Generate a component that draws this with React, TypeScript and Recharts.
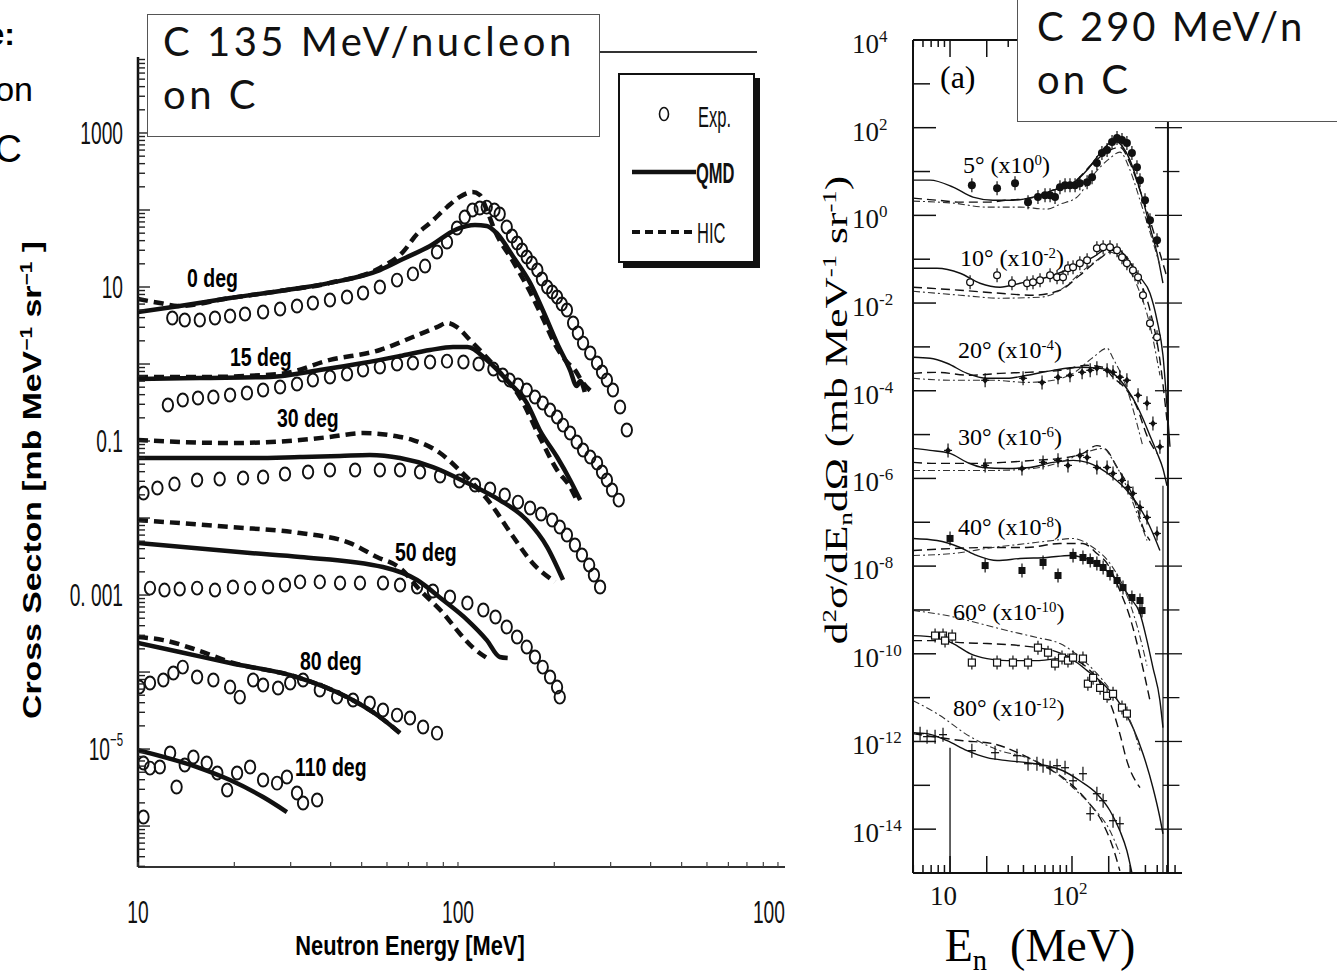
import React from "react";
import { ComposedChart, Line, Scatter, XAxis, YAxis, ReferenceLine, Legend } from "recharts";

type Pt = [number, number];

const SANS = '"Liberation Sans", Arial, sans-serif';
const SERIF = '"Liberation Serif", "Times New Roman", serif';
const GEO = 'Lato, "Open Sans", sans-serif';

// ---------- left panel: C 135 MeV/nucleon on C  (E [MeV], mb/MeV/sr) ----------
const exp0: Pt[] = [[12.8,3.96],[14.0,3.73],[15.6,3.73],[17.4,3.96],[19.4,4.2],[21.6,4.46],[24.6,4.73],[27.8,5.18],[31.4,5.67],[35.2,6.2],[39.8,6.78],[45.0,7.41],[50.5,8.36],[57.0,10],[64.5,12.3],[72.3,14.8],[78.9,18.7],[86.0,28.5],[92.4,38.4],[99.3,58.4],[105,81.1],[111,100],[117,106],[123,109],[130,100],[135,88.7],[142,60.1],[147.5,45.9],[153,37.3],[158.5,30.2],[164,24.5],[170,20.5],[177,16.6],[183,12.7],[190,10],[197,8.61],[204,7.41],[211,6.01],[219,5.03],[229,3.41],[237,2.53],[246,1.87],[259,1.39],[272,1.03],[282,0.787],[292,0.62],[305,0.459],[321,0.276],[337,0.139]];
const qmd0: Pt[] = [[10,4.73],[13.5,5.67],[19.4,7.2],[27.8,8.87],[39.8,11.3],[57.0,16.6],[67.3,23.1],[81.8,34.1],[99.3,56.6],[113,63.9],[123,62.0],[132,50.3],[149,24.5],[168,11.3],[184,5.03],[204,1.87],[224,0.836],[235,0.518],[241,0.601],[249,0.433]];
const hic0: Pt[] = [[10,6.98],[11.7,6.2],[13.3,5.67],[19.4,7.2],[27.8,8.87],[39.8,11.3],[57.0,17.7],[67.3,28.5],[74.5,48.8],[81.8,67.8],[92.4,109],[101,147],[111,171],[117,157],[123,100],[131,51.8],[149,21.1],[168,8.61],[184,3.96],[204,1.61],[219,1.06],[232,0.836],[246,0.567],[262,0.433]];

const exp15: Pt[] = [[12.4,0.294],[13.8,0.341],[15.4,0.362],[17.2,0.373],[19.4,0.396],[21.9,0.42],[24.6,0.459],[27.8,0.503],[31.4,0.55],[35.2,0.62],[39.8,0.678],[45.0,0.742],[50.5,0.836],[57.0,0.914],[64.5,1.0],[72.3,1.03],[81.8,1.06],[92.4,1.09],[104,1.06],[116,1.0],[129,0.861],[138,0.72],[145,0.62],[154,0.534],[164,0.459],[174,0.373],[184,0.312],[194,0.253],[204,0.205],[213,0.161],[224,0.127],[235,0.097],[246,0.0764],[259,0.062],[272,0.0518],[282,0.0396],[292,0.0312],[303,0.0231],[318,0.0171]];
const qmd15: Pt[] = [[10,0.638],[15.6,0.658],[25.9,0.678],[37.0,0.836],[50.5,1.03],[65.9,1.27],[81.8,1.52],[96.5,1.66],[107,1.66],[123,1.13],[145,0.567],[164,0.312],[180,0.139],[204,0.062],[224,0.0312],[241,0.0171]];
const hic15: Pt[] = [[10,0.678],[15.6,0.678],[27.8,0.742],[39.8,1.13],[57.0,1.52],[72.3,2.24],[86.0,3.02],[92.4,3.41],[99.3,3.02],[109,2.05],[117,1.52],[135,0.787],[156,0.373],[180,0.113],[204,0.042],[224,0.0253],[235,0.0171]];

const exp30: Pt[] = [[10.4,0.0211],[11.5,0.0245],[13.0,0.0276],[15.3,0.0312],[18.0,0.0321],[21.3,0.0331],[24.6,0.0341],[28.8,0.0373],[34.0,0.0396],[39.8,0.042],[47.7,0.042],[57.0,0.042],[65.9,0.042],[76.1,0.0396],[87.9,0.0351],[101,0.0303],[113,0.0268],[126,0.0238],[140,0.0199],[154,0.0161],[168,0.0135],[182,0.0113],[197,0.00942],[208,0.00764],[219,0.00601],[232,0.00446],[244,0.00331],[257,0.00245],[266,0.00182],[278,0.00127]];
const qmd30: Pt[] = [[10,0.0601],[22.4,0.0601],[32.1,0.062],[42.8,0.0639],[53.0,0.0658],[65.9,0.0601],[83.5,0.0459],[107,0.0285],[135,0.0171],[164,0.00942],[190,0.0042],[213,0.00157]];
const hic30: Pt[] = [[10,0.103],[19.4,0.0942],[32.1,0.103],[39.8,0.113],[50.5,0.127],[65.9,0.113],[72.3,0.103],[87.9,0.0699],[101,0.042],[126,0.0157],[149,0.00566],[171,0.00261],[201,0.00148]];

const exp50: Pt[] = [[10.9,0.00123],[12.1,0.00116],[13.5,0.0012],[15.3,0.00123],[17.4,0.00116],[19.8,0.00127],[22.4,0.00123],[25.5,0.00127],[28.8,0.00135],[32.1,0.00148],[37.0,0.00148],[42.8,0.00143],[49.4,0.00143],[58.3,0.00143],[65.9,0.00135],[74.5,0.00127],[83.5,0.00113],[94.4,0.000942],[107,0.000787],[120,0.000639],[131,0.000518],[142,0.000384],[153,0.000285],[164,0.000211],[174,0.000157],[184,0.000116],[194,0.0000861],[204,0.0000638],[208,0.0000473]];
const qmd50: Pt[] = [[10,0.00473],[22.4,0.00351],[32.1,0.00312],[58.3,0.00231],[74.5,0.00157],[89.8,0.000861],[107,0.000473],[123,0.00026],[135,0.000157],[143,0.000152]];
const hic50: Pt[] = [[10,0.00942],[19.4,0.00764],[32.1,0.00638],[46.0,0.00473],[55.8,0.00312],[65.9,0.00224],[76.1,0.00116],[89.8,0.000584],[101,0.000321],[111,0.000211],[126,0.000143]];

const exp80: Pt[] = [[10.1,6.38e-5],[10.9,7.2e-5],[12.0,7.87e-5],[12.9,9.7e-5],[13.8,1.16e-4],[15.3,8.61e-5],[17.2,7.87e-5],[19.4,6.38e-5],[20.8,4.73e-5],[22.9,7.87e-5],[24.6,6.78e-5],[27.4,6.2e-5],[29.9,7.2e-5],[32.8,7.87e-5],[37.0,5.84e-5],[41.9,4.73e-5],[47.0,4.33e-5],[53.0,3.96e-5],[58.3,3.21e-5],[64.5,2.76e-5],[70.8,2.53e-5],[77.8,1.93e-5],[86.0,1.61e-5]];
const qmd80: Pt[] = [[10,2.38e-4],[13.5,1.82e-4],[19.4,1.31e-4],[31.4,8.61e-5],[45.0,4.73e-5],[57.0,2.61e-5],[65.9,1.61e-5]];
const hic80: Pt[] = [[10,2.85e-4],[12.0,2.6e-4],[15.3,1.93e-4],[19.4,1.35e-4],[31.4,8.61e-5],[45.0,4.73e-5],[57.0,2.61e-5],[65.9,1.61e-5]];

const exp110: Pt[] = [[10.4,6.58e-6],[10.4,1.31e-6],[10.9,5.66e-6],[11.7,5.84e-6],[12.6,8.87e-6],[13.2,3.21e-6],[14.0,6.2e-6],[14.9,7.87e-6],[16.4,6.58e-6],[17.7,4.88e-6],[19.0,2.94e-6],[20.4,4.88e-6],[22.4,5.84e-6],[24.6,3.96e-6],[27.2,3.61e-6],[29.2,4.33e-6],[31.4,2.69e-6],[32.8,1.99e-6],[36.3,2.18e-6]];
const qmd110: Pt[] = [[10,9.7e-6],[15.3,5.84e-6],[19.4,3.96e-6],[24.6,2.38e-6],[29.2,1.52e-6]];

const LEFT_SETS = [
  { exp: exp0, qmd: qmd0, hic: hic0 },
  { exp: exp15, qmd: qmd15, hic: hic15 },
  { exp: exp30, qmd: qmd30, hic: hic30 },
  { exp: exp50, qmd: qmd50, hic: hic50 },
  { exp: exp80, qmd: qmd80, hic: hic80 },
  { exp: exp110, qmd: qmd110, hic: [] as Pt[] },
];
const LEFT_LABELS = [
  { t: "0 deg", x: 187, y: 278 },
  { t: "15 deg", x: 230, y: 357 },
  { t: "30 deg", x: 277, y: 418 },
  { t: "50 deg", x: 395, y: 552 },
  { t: "80 deg", x: 300, y: 661 },
  { t: "110 deg", x: 295, y: 767 },
];

// ---------- right panel: C 290 MeV/n on C ----------
const s5: Pt[] = [[4.97,6.36],[6.86,6.36],[10.6,4.4],[15.4,2.61],[22.5,2.22],[32.8,2.22],[47.9,2.61],[69.9,3.76],[102,5.43],[133,10.8],[170,26.3],[205,44.5],[234,46.9],[262,35.7],[299,18.2],[341,6.36],[382,2.22],[436,0.538],[498,0.137],[557,0.0283]];
const d5: Pt[] = [[4.97,2.47],[7.82,2.22],[12.1,2.0],[20.1,2.0],[29.3,2.22],[45.3,2.47],[69.9,3.76],[102,5.43],[149,15.6],[205,30.8],[247,35.7],[299,15.6],[361,3.76],[436,0.777],[526,0.137],[601,0.0388]];
const dd5: Pt[] = [[4.97,2.11],[10.6,1.9],[20.1,1.54],[37.5,1.54],[62.4,1.39],[79.7,1.8],[110,2.61],[149,8.28],[205,20.2],[247,27.7],[299,10.8],[361,2.22],[436,0.413],[526,0.073]];
const p5: Pt[] = [[15.1,4.89],[24.3,4.18],[34.1,5.43],[43.6,2.0],[52.6,2.61],[60.1,2.89],[66.1,2.89],[72.6,2.61],[79.7,4.4],[87.7,4.89],[96.3,4.89],[106,4.89],[116,5.43],[133,5.73],[146,7.45],[160,15.6],[176,26.3],[194,30.8],[213,46.9],[234,57.9],[257,52.1],[282,44.5],[310,26.3],[341,12.6],[361,6.36],[397,2.22],[436,0.777],[498,0.272]];

const s10: Pt[] = [[4.97,0.0623],[7.82,0.0623],[12.1,0.0478],[17.6,0.0283],[25.7,0.023],[37.5,0.0283],[62.4,0.0388],[102,0.0656],[149,0.111],[205,0.188],[247,0.16],[299,0.0811],[361,0.0388],[436,0.0167],[498,0.00405],[557,6.43e-4],[601,4.55e-5],[636,5.26e-6]];
const d10: Pt[] = [[4.97,0.023],[12.1,0.0196],[25.7,0.0167],[47.9,0.0151],[79.7,0.0196],[116,0.0431],[170,0.105],[217,0.16],[272,0.123],[341,0.0431],[436,0.00685],[526,0.000494],[601,2.11e-5]];
const dd10: Pt[] = [[4.97,0.0186],[12.1,0.0151],[25.7,0.0129],[54.7,0.0136],[91.0,0.0255],[116,0.0478],[160,0.0949],[205,0.145],[257,0.0949],[341,0.0255],[436,0.00311],[526,0.000225]];
const p10: Pt[] = [[14.6,0.0299],[24.3,0.0431],[32.2,0.0283],[42.8,0.0283],[47.9,0.0299],[54.7,0.0332],[66.1,0.0431],[75.4,0.0388],[84.4,0.0388],[92.7,0.0623],[102,0.0656],[116,0.0811],[133,0.0949],[160,0.178],[180,0.188],[205,0.188],[234,0.16],[257,0.111],[282,0.0811],[316,0.0561],[348,0.0388],[382,0.0151],[436,0.00346],[498,0.00166]];

const s20: Pt[] = [[4.97,5.79e-4],[6.86,5.5e-4],[9.45,4.23e-4],[13.8,2.49e-4],[20.1,1.92e-4],[29.3,1.92e-4],[42.8,2.25e-4],[69.9,2.92e-4],[116,3.42e-4],[170,3.24e-4],[217,2.49e-4],[282,1.11e-4],[341,4.55e-5],[382,2.3e-5],[436,9.4e-6],[498,3.84e-6],[557,1.66e-6],[601,6.8e-7]];
const d20: Pt[] = [[4.97,2.49e-4],[7.82,2.63e-4],[14.6,2.25e-4],[25.7,2.49e-4],[42.8,2.63e-4],[79.7,2.92e-4],[133,3.8e-4],[180,3.42e-4],[217,2.02e-4],[282,1.02e-4],[341,4.18e-5],[412,9.4e-6],[498,3.72e-6]];
const dd20: Pt[] = [[4.97,1.92e-4],[10.6,1.73e-4],[22.5,1.73e-4],[42.8,1.55e-4],[69.9,1.73e-4],[102,2.49e-4],[149,5.79e-4],[194,9.29e-4],[217,5.5e-4],[282,1.11e-4],[341,1.77e-5],[382,5.26e-6]];
const p20: Pt[] = [[19.4,1.73e-4],[39.7,1.92e-4],[56.8,1.55e-4],[76.8,2.02e-4],[96.3,2.25e-4],[121,2.63e-4],[141,2.92e-4],[160,3.24e-4],[194,2.92e-4],[217,2.63e-4],[247,2.02e-4],[282,1.73e-4],[348,7.85e-5],[412,5.15e-5],[461,1.8e-5],[526,5.26e-6]];

const s30: Pt[] = [[4.97,4.84e-6],[6.86,4.36e-6],[10,3.72e-6],[13.8,2.32e-6],[18.6,1.78e-6],[29.3,1.69e-6],[45.3,1.78e-6],[69.9,2.32e-6],[102,2.58e-6],[133,2.32e-6],[170,1.69e-6],[217,1.05e-6],[282,5.32e-7],[341,2.69e-7],[412,1.1e-7],[461,5.55e-8],[526,2.27e-8]];
const d30: Pt[] = [[4.97,2.32e-6],[7.82,2.2e-6],[14.6,2.2e-6],[27.2,2.32e-6],[47.9,2.58e-6],[79.7,2.86e-6],[123,3.72e-6],[160,5.61e-6],[194,4.36e-6],[234,1.78e-6],[282,7.69e-7],[341,2.18e-7],[382,7.6e-8],[436,3.84e-8]];
const dd30: Pt[] = [[4.97,1.52e-6],[10.6,1.52e-6],[22.5,1.52e-6],[47.9,1.69e-6],[79.7,2.32e-6],[123,3.72e-6],[180,4.84e-6],[217,2.58e-6],[282,6.24e-7],[341,1.59e-7],[412,3.84e-8]];
const p30: Pt[] = [[9.63,4.36e-6],[19.4,1.98e-6],[38.9,1.69e-6],[57.9,2.32e-6],[76.8,2.58e-6],[92.7,1.98e-6],[116,3.35e-6],[133,3.02e-6],[160,1.78e-6],[194,1.78e-6],[217,1.3e-6],[257,9.0e-7],[288,6.24e-7],[316,4.55e-7],[361,2.18e-7],[412,1.29e-7],[498,5.55e-8]];

const s40: Pt[] = [[4.97,4.27e-8],[7.82,3.84e-8],[12.1,2.66e-8],[16.6,1.75e-8],[24.3,1.34e-8],[37.5,1.49e-8],[62.4,1.57e-8],[96.3,1.75e-8],[123,1.57e-8],[160,1.15e-8],[205,6.78e-9],[247,4.01e-9],[299,1.92e-9],[361,8.28e-10],[412,2.0e-10],[461,4.84e-11],[526,8.55e-12],[557,2.07e-12]];
const d40: Pt[] = [[4.97,2.27e-8],[10.6,2.52e-8],[20.1,2.66e-8],[42.8,2.66e-8],[79.7,3.28e-8],[123,3.28e-8],[160,1.94e-8],[194,1.15e-8],[247,2.77e-9],[299,6.7e-10],[361,9.1e-11],[436,8.55e-12]];
const dd40: Pt[] = [[4.97,1.75e-8],[10.6,1.94e-8],[22.5,2.66e-8],[42.8,3.28e-8],[69.9,3.84e-8],[102,4.27e-8],[149,2.66e-8],[205,1.15e-8],[272,2.77e-9],[341,4.41e-10],[412,5.38e-11]];
const p40: Pt[] = [[10,4.27e-8],[19.4,1.03e-8],[38.9,7.94e-9],[57.9,1.21e-8],[76.8,6.1e-9],[102,1.75e-8],[123,1.57e-8],[141,1.34e-8],[160,1.15e-8],[180,9.29e-9],[205,6.78e-9],[234,4.69e-9],[262,3.24e-9],[310,1.92e-9],[361,1.64e-9],[375,9.7e-10]];

const s60: Pt[] = [[4.97,2.6e-10],[7.82,2.35e-10],[10.6,1.71e-10],[14.6,1.01e-10],[20.1,7.77e-11],[29.3,7.0e-11],[51.6,7.0e-11],[79.7,7.77e-11],[102,7.0e-11],[133,4.13e-11],[180,2.08e-11],[247,7.29e-12],[316,2.07e-12],[382,5.26e-13],[461,8.81e-14],[526,1.82e-14],[557,7.85e-15]];
const d60: Pt[] = [[4.97,2.0e-10],[7.82,2.0e-10],[12.1,1.8e-10],[20.1,1.71e-10],[37.5,1.54e-10],[51.6,1.38e-10],[69.9,1.18e-10],[96.3,8.18e-11],[133,4.84e-11],[180,1.67e-11],[217,5.0e-12],[247,1.49e-12],[282,3.61e-13],[361,8.81e-14]];
const dd60: Pt[] = [[4.97,9.7e-10],[9.45,7.45e-10],[17.6,4.89e-10],[29.3,3.39e-10],[51.6,2.35e-10],[79.7,1.71e-10],[133,5.97e-11],[180,2.44e-11],[247,7.29e-12],[316,2.07e-12],[361,6.17e-13]];
const p60: Pt[] = [[7.54,2.6e-10],[8.76,2.6e-10],[10.4,2.47e-10],[9.1,2.0e-10],[15.1,6.3e-11],[24.3,6.3e-11],[32.8,6.3e-11],[43.6,6.3e-11],[52.6,1.38e-10],[63.6,1.06e-10],[72.6,5.97e-11],[82.8,8.18e-11],[92.7,7.0e-11],[102,8.18e-11],[123,7.77e-11],[135,2.08e-11],[149,2.83e-11],[170,1.67e-11],[194,1.1e-11],[217,1.22e-11],[257,5.92e-12],[282,4.32e-12]];

const s80: Pt[] = [[4.97,1.59e-12],[6.48,1.51e-12],[9.45,1.04e-12],[13.8,6.17e-13],[20.1,4.27e-13],[29.3,3.65e-13],[42.8,3.28e-13],[62.4,2.8e-13],[84.4,2.15e-13],[116,1.27e-13],[160,6.43e-14],[205,2.63e-14],[247,9.19e-15],[282,3.21e-15],[310,1.0e-15]];
const d80: Pt[] = [[4.97,1.51e-12],[12.8,1.04e-12],[22.5,8.89e-13],[37.5,5.26e-13],[62.4,2.52e-13],[91.0,1.27e-13],[133,4.45e-14],[180,1.33e-14],[217,3.76e-15],[247,1.12e-15]];
const dd80: Pt[] = [[4.97,8.55e-12],[7.82,4.32e-12],[14.6,1.29e-12],[25.7,6.17e-13],[42.8,4.27e-13],[69.9,2.15e-13],[102,8.81e-14],[149,3.08e-14],[205,9.19e-15],[247,2.74e-15]];
const p80: Pt[] = [[5.68,1.51e-12],[6.48,1.29e-12],[7.54,1.29e-12],[8.76,1.43e-12],[15.1,6.17e-13],[23.4,5.55e-13],[35.4,4.74e-13],[43.6,3.11e-13],[51.6,3.11e-13],[57.9,2.8e-13],[66.1,2.52e-13],[75.4,2.8e-13],[87.7,2.52e-13],[102,1.27e-13],[123,1.84e-13],[141,2.25e-14],[160,6.43e-14],[180,4.45e-14],[217,1.56e-14],[247,1.33e-14]];

const RIGHT_SETS = [
  { s: s5, d: d5, dd: dd5, p: p5, mark: "fdot" },
  { s: s10, d: d10, dd: dd10, p: p10, mark: "odot" },
  { s: s20, d: d20, dd: dd20, p: p20, mark: "star" },
  { s: s30, d: d30, dd: dd30, p: p30, mark: "star" },
  { s: s40, d: d40, dd: dd40, p: p40, mark: "fsq" },
  { s: s60, d: d60, dd: dd60, p: p60, mark: "osq" },
  { s: s80, d: d80, dd: dd80, p: p80, mark: "plus" },
];
const RIGHT_LABELS = [
  { a: "5°", e: "0", x: 963, y: 165 },
  { a: "10°", e: "-2", x: 960, y: 258 },
  { a: "20°", e: "-4", x: 958, y: 350 },
  { a: "30°", e: "-6", x: 958, y: 437 },
  { a: "40°", e: "-8", x: 958, y: 527 },
  { a: "60°", e: "-10", x: 953, y: 612 },
  { a: "80°", e: "-12", x: 953, y: 708 },
];

// ---------- axes ----------
const MULTS = [1, 2, 3, 4, 5, 6, 7, 8, 9];
const L_DECADES = [-7, -6, -5, -4, -3, -2, -1, 0, 1, 2, 3];
const L_Y_DOMAIN: [number, number] = [2.94e-7, 9700];
const L_Y_TICKS = L_DECADES.flatMap((d) => MULTS.map((m) => m * 10 ** d)).filter(
  (v) => v >= L_Y_DOMAIN[0] && v <= L_Y_DOMAIN[1]
);
const L_Y_LABELS: Record<number, { base: string; sup?: string }> = {
  3: { base: "1000" },
  1: { base: "10" },
  [-1]: { base: "0.1" },
  [-3]: { base: "0. 001" },
  [-5]: { base: "10", sup: "−5" },
};
const L_X_TICKS = [10, 20, 30, 40, 50, 60, 70, 80, 90, 100, 200, 300, 400, 500, 600, 700, 800, 900, 1000];
const L_X_LABELS: Record<number, string> = { 10: "10", 100: "100", 1000: "100" };

const R_DECADES = [-15, -14, -13, -12, -11, -10, -9, -8, -7, -6, -5, -4, -3, -2, -1, 0, 1, 2, 3, 4];
const R_Y_TICKS = R_DECADES.map((d) => 10 ** d);
const R_X_TICKS = [5, 6, 7, 8, 9, 10, 20, 30, 40, 50, 60, 70, 80, 90, 100, 200, 300, 400, 500, 600, 700];
const R_X_LONG = [10, 20, 100, 200];

const toRows = (pts: Pt[]) => pts.map(([x, y]) => ({ x, y }));
const decadeOf = (v: number) => {
  const lg = Math.log10(v);
  return Math.abs(lg - Math.round(lg)) < 1e-6 ? Math.round(lg) : null;
};

function LeftYTick(p: any) {
  const { x, y, payload } = p;
  const d = decadeOf(payload.value);
  const lab = d !== null ? L_Y_LABELS[d] : undefined;
  return (
    <g>
      <line x1={x} x2={x + (d !== null ? 12 : 7)} y1={y} y2={y} stroke="#222" strokeWidth={1.4} />
      {lab && (
        <text transform={`translate(${x - 15},${y + 11}) scale(0.6,1)`} textAnchor="end" fontFamily={SANS} fontSize={32} fill="#111">
          {lab.base}
          {lab.sup && (
            <tspan dy={-14} fontSize={19}>
              {lab.sup}
            </tspan>
          )}
        </text>
      )}
    </g>
  );
}

function LeftXTick(p: any) {
  const { x, y, payload } = p;
  const lab = L_X_LABELS[payload.value];
  const isLast = payload.value === 1000;
  return (
    <g>
      <line x1={x} x2={x} y1={y} y2={y - 5} stroke="#444" strokeWidth={1.2} />
      {lab && (
        <text
          transform={`translate(${isLast ? x + 7 : x},${y + 56}) scale(0.6,1)`}
          textAnchor={isLast ? "end" : "middle"}
          fontFamily={SANS}
          fontSize={32}
          fill="#111"
        >
          {lab}
        </text>
      )}
    </g>
  );
}

function RightYTick(p: any) {
  const { x, y, payload } = p;
  const d = decadeOf(payload.value) ?? 0;
  const even = d % 2 === 0;
  return (
    <g>
      <line x1={x} x2={x + (even ? 23 : 17)} y1={y} y2={y} stroke="#111" strokeWidth={1.5} />
      {even && (
        <text x={x - 61} y={y + 13} textAnchor="start" fontFamily={SERIF} fontSize={27} fill="#111">
          10
          <tspan dy={-11} fontSize={17}>
            {d < 0 ? `-${-d}` : String(d)}
          </tspan>
        </text>
      )}
    </g>
  );
}

function RightXTick(p: any) {
  const { x, y, payload } = p;
  const v = payload.value;
  const long = R_X_LONG.includes(v);
  return (
    <g>
      <line x1={x} x2={x} y1={y} y2={y - (long ? 17 : 8)} stroke="#111" strokeWidth={1.5} />
      {(v === 10 || v === 100) && (
        <text x={x - 20} y={y + 32} fontFamily={SERIF} fontSize={27} fill="#111">
          10
          {v === 100 && (
            <tspan dy={-11} fontSize={17}>
              2
            </tspan>
          )}
        </text>
      )}
    </g>
  );
}

function TopXTick(p: any) {
  const { x, y, payload } = p;
  const long = R_X_LONG.includes(payload.value);
  return <line x1={x} x2={x} y1={y} y2={y + (long ? 17 : 7)} stroke="#111" strokeWidth={1.5} />;
}

const expShape = (p: any) =>
  p.cx == null ? <g /> : <ellipse cx={p.cx} cy={p.cy} rx={5.2} ry={6.5} fill="none" stroke="#111" strokeWidth={1.9} />;

const markShape = (kind: string) => (p: any) => {
  const { cx, cy } = p;
  if (cx == null || cy == null) return <g />;
  const bar = <line x1={cx} x2={cx} y1={cy - 7} y2={cy + 7} stroke="#111" strokeWidth={1.2} />;
  if (kind === "fdot")
    return (
      <g>
        {bar}
        <circle cx={cx} cy={cy} r={4} fill="#111" />
      </g>
    );
  if (kind === "odot")
    return (
      <g>
        {bar}
        <circle cx={cx} cy={cy} r={3.4} fill="#fff" stroke="#111" strokeWidth={1.3} />
      </g>
    );
  if (kind === "star")
    return (
      <g>
        {bar}
        <line x1={cx - 4} x2={cx + 4} y1={cy} y2={cy} stroke="#111" strokeWidth={1.2} />
        <path d={`M${cx},${cy - 3.5}L${cx + 3},${cy}L${cx},${cy + 3.5}L${cx - 3},${cy}Z`} fill="#111" />
      </g>
    );
  if (kind === "fsq")
    return (
      <g>
        {bar}
        <rect x={cx - 3.5} y={cy - 3.5} width={7} height={7} fill="#111" />
      </g>
    );
  if (kind === "osq")
    return (
      <g>
        {bar}
        <rect x={cx - 3.5} y={cy - 3.5} width={7} height={7} fill="#fff" stroke="#111" strokeWidth={1.2} />
      </g>
    );
  return (
    <g>
      {bar}
      <line x1={cx - 4} x2={cx + 4} y1={cy} y2={cy} stroke="#111" strokeWidth={1.3} />
    </g>
  );
};

const LegendBox = () => (
  <div style={{ width: 133, height: 186, border: "2px solid #111", boxShadow: "5px 5px 0 #111", background: "#fff" }}>
    <svg width={133} height={186}>
      <ellipse cx={44} cy={39} rx={4.5} ry={6.5} fill="none" stroke="#111" strokeWidth={1.6} />
      <text transform="translate(78,52) scale(0.55,1)" fontFamily={SANS} fontSize={30} fill="#111">
        Exp.
      </text>
      <line x1={12} x2={76} y1={97} y2={97} stroke="#111" strokeWidth={4.5} />
      <text transform="translate(76,108) scale(0.55,1)" fontFamily={SANS} fontSize={30} fontWeight="bold" fill="#111">
        QMD
      </text>
      <line x1={12} x2={76} y1={157} y2={157} stroke="#111" strokeWidth={4} strokeDasharray="8 5" />
      <text transform="translate(77,168) scale(0.55,1)" fontFamily={SANS} fontSize={30} fill="#111">
        HIC
      </text>
    </svg>
  </div>
);

const abs = (x: number, y: number, extra: React.CSSProperties = {}): React.CSSProperties => ({
  position: "absolute",
  left: x,
  top: y,
  whiteSpace: "nowrap",
  lineHeight: 1,
  ...extra,
});

const supStyle: React.CSSProperties = { fontSize: "0.62em", verticalAlign: "0.55em", lineHeight: 0 };
const subStyle: React.CSSProperties = { fontSize: "0.62em", verticalAlign: "-0.3em", lineHeight: 0 };

export default function App() {
  return (
    <div style={{ position: "fixed", left: 0, top: 0, width: 1337, height: 977, overflow: "hidden", background: "#fff" }}>
      {/* left panel */}
      <div style={{ position: "absolute", left: 0, top: 0 }}>
        <ComposedChart width={800} height={977} margin={{ top: 57, right: 15, bottom: 109, left: 137 }}>
          <XAxis
            type="number"
            dataKey="x"
            scale="log"
            domain={[10, 1052]}
            allowDataOverflow
            ticks={L_X_TICKS}
            interval={0}
            height={1}
            tickSize={0}
            tickMargin={0}
            tickLine={false}
            axisLine={{ stroke: "#333", strokeWidth: 2 }}
            tick={(p: any) => <LeftXTick {...p} />}
          />
          <YAxis
            type="number"
            dataKey="y"
            scale="log"
            domain={L_Y_DOMAIN}
            allowDataOverflow
            ticks={L_Y_TICKS}
            interval={0}
            width={1}
            tickSize={0}
            tickMargin={0}
            tickLine={false}
            axisLine={{ stroke: "#111", strokeWidth: 2.5 }}
            tick={(p: any) => <LeftYTick {...p} />}
          />
          {LEFT_SETS.map((s, i) => (
            <Line key={`q${i}`} data={toRows(s.qmd)} dataKey="y" type="monotone" stroke="#111" strokeWidth={4.5} dot={false} activeDot={false} isAnimationActive={false} legendType="none" />
          ))}
          {LEFT_SETS.filter((s) => s.hic.length > 0).map((s, i) => (
            <Line key={`h${i}`} data={toRows(s.hic)} dataKey="y" type="monotone" stroke="#111" strokeWidth={4.5} strokeDasharray="10 6" dot={false} activeDot={false} isAnimationActive={false} legendType="none" />
          ))}
          {LEFT_SETS.map((s, i) => (
            <Scatter key={`e${i}`} data={toRows(s.exp)} shape={expShape} isAnimationActive={false} legendType="none" />
          ))}
          <Legend
            layout="horizontal"
            verticalAlign="middle"
            align="center"
            content={() => <LegendBox />}
            wrapperStyle={{ left: 618, top: 73, width: 140, height: 192 }}
          />
        </ComposedChart>
      </div>

      {/* right panel */}
      <div style={{ position: "absolute", left: 800, top: 0 }}>
        <ComposedChart width={400} height={977} margin={{ top: 39, right: 18, bottom: 103, left: 112 }}>
          <XAxis
            type="number"
            dataKey="x"
            scale="log"
            domain={[4.97, 798]}
            allowDataOverflow
            ticks={R_X_TICKS}
            interval={0}
            height={1}
            tickSize={0}
            tickMargin={0}
            tickLine={false}
            axisLine={{ stroke: "#111", strokeWidth: 2 }}
            tick={(p: any) => <RightXTick {...p} />}
          />
          <XAxis
            xAxisId="top"
            orientation="top"
            type="number"
            dataKey="x"
            scale="log"
            domain={[4.97, 798]}
            allowDataOverflow
            ticks={R_X_TICKS}
            interval={0}
            height={1}
            tickSize={0}
            tickMargin={0}
            tickLine={false}
            axisLine={{ stroke: "#111", strokeWidth: 2 }}
            tick={(p: any) => <TopXTick {...p} />}
          />
          <YAxis
            type="number"
            dataKey="y"
            scale="log"
            domain={[1e-15, 1e4]}
            allowDataOverflow
            ticks={R_Y_TICKS}
            interval={0}
            width={1}
            tickSize={0}
            tickMargin={0}
            tickLine={false}
            axisLine={{ stroke: "#111", strokeWidth: 2 }}
            tick={(p: any) => <RightYTick {...p} />}
          />
          <ReferenceLine x={612} stroke="#111" strokeWidth={2} />
          <ReferenceLine segment={[{ x: 557, y: 1e-15 }, { x: 557, y: 6.8e-7 }]} stroke="#333" strokeWidth={1.3} />
          <ReferenceLine segment={[{ x: 10, y: 1e-15 }, { x: 10, y: 7.2e-13 }]} stroke="#111" strokeWidth={1.3} />
          {R_DECADES.map((d) => (
            <ReferenceLine
              key={`rt${d}`}
              segment={[
                { x: d % 2 === 0 ? 479 : 557, y: 10 ** d },
                { x: d % 2 === 0 ? 798 : 760, y: 10 ** d },
              ]}
              stroke="#111"
              strokeWidth={1.3}
            />
          ))}
          {RIGHT_SETS.map((s, i) => (
            <Line key={`s${i}`} data={toRows(s.s)} dataKey="y" type="monotone" stroke="#111" strokeWidth={1.4} dot={false} activeDot={false} isAnimationActive={false} legendType="none" />
          ))}
          {RIGHT_SETS.map((s, i) => (
            <Line key={`d${i}`} data={toRows(s.d)} dataKey="y" type="monotone" stroke="#111" strokeWidth={1.4} strokeDasharray="9 5" dot={false} activeDot={false} isAnimationActive={false} legendType="none" />
          ))}
          {RIGHT_SETS.map((s, i) => (
            <Line key={`dd${i}`} data={toRows(s.dd)} dataKey="y" type="monotone" stroke="#333" strokeWidth={1.1} strokeDasharray="7 3 2 3" dot={false} activeDot={false} isAnimationActive={false} legendType="none" />
          ))}
          {RIGHT_SETS.map((s, i) => (
            <Scatter key={`p${i}`} data={toRows(s.p)} shape={markShape(s.mark)} isAnimationActive={false} legendType="none" />
          ))}
        </ComposedChart>
      </div>

      {/* left panel texts */}
      {LEFT_LABELS.map((l) => (
        <div key={l.t} style={abs(l.x, l.y, { fontFamily: SANS, fontWeight: "bold", fontSize: 26, transform: "translateY(-50%) scaleX(0.75)", transformOrigin: "left center" })}>
          {l.t}
        </div>
      ))}
      <div style={abs(32, 480, { fontFamily: SANS, fontWeight: "bold", fontSize: 26, transform: "translate(-50%,-50%) rotate(-90deg) scaleX(1.3)" })}>
        Cross Secton [mb MeV<span style={supStyle}>−1</span> sr<span style={supStyle}>−1</span> ]
      </div>
      <div style={abs(410, 946, { fontFamily: SANS, fontWeight: "bold", fontSize: 28, transform: "translate(-50%,-50%) scaleX(0.78)" })}>
        Neutron Energy [MeV]
      </div>
      <div style={{ position: "absolute", left: 560, top: 51, width: 197, height: 2, background: "#333" }} />

      {/* right panel texts */}
      <div style={abs(940, 77, { fontFamily: SERIF, fontSize: 32, transform: "translateY(-50%)" })}>(a)</div>
      {RIGHT_LABELS.map((l) => (
        <div key={l.a} style={abs(l.x, l.y, { fontFamily: SERIF, fontSize: 24, transform: "translateY(-50%)" })}>
          {l.a} (x10<span style={supStyle}>{l.e}</span>)
        </div>
      ))}
      <div style={abs(836, 410, { fontFamily: SERIF, fontSize: 31, transform: "translate(-50%,-50%) rotate(-90deg) scaleX(1.4)" })}>
        d<span style={supStyle}>2</span>σ/dE<span style={subStyle}>n</span>dΩ (mb MeV<span style={supStyle}>-1</span> sr<span style={supStyle}>-1</span>)
      </div>
      <div style={abs(1040, 946, { fontFamily: SERIF, fontSize: 46, transform: "translate(-50%,-50%)" })}>
        E<span style={subStyle}>n</span>&nbsp; (MeV)
      </div>

      {/* slide text boxes */}
      <div style={{ position: "absolute", left: 147, top: 14, width: 453, height: 123, boxSizing: "border-box", border: "1.5px solid #555", background: "#fff", padding: "0 0 0 15px", fontFamily: GEO, fontSize: 40, letterSpacing: 3.5, lineHeight: "53px", color: "#111" }}>
        C 135 MeV/nucleon
        <br />
        on C
      </div>
      <div style={{ position: "absolute", left: 1017, top: -2, width: 340, height: 124, boxSizing: "border-box", border: "1.5px solid #555", background: "#fff", padding: "1px 0 0 19px", fontFamily: GEO, fontSize: 40, letterSpacing: 3, lineHeight: "53px", color: "#111" }}>
        C 290 MeV/n
        <br />
        on C
      </div>
      <div style={abs(-200, 18, { width: 215, textAlign: "right", fontFamily: SANS, fontWeight: "bold", fontSize: 32 })}>e:</div>
      <div style={abs(-200, 72, { width: 233, textAlign: "right", fontFamily: SANS, fontSize: 34 })}>on</div>
      <div style={abs(-200, 130, { width: 222, textAlign: "right", fontFamily: SANS, fontSize: 38 })}>C</div>
    </div>
  );
}
